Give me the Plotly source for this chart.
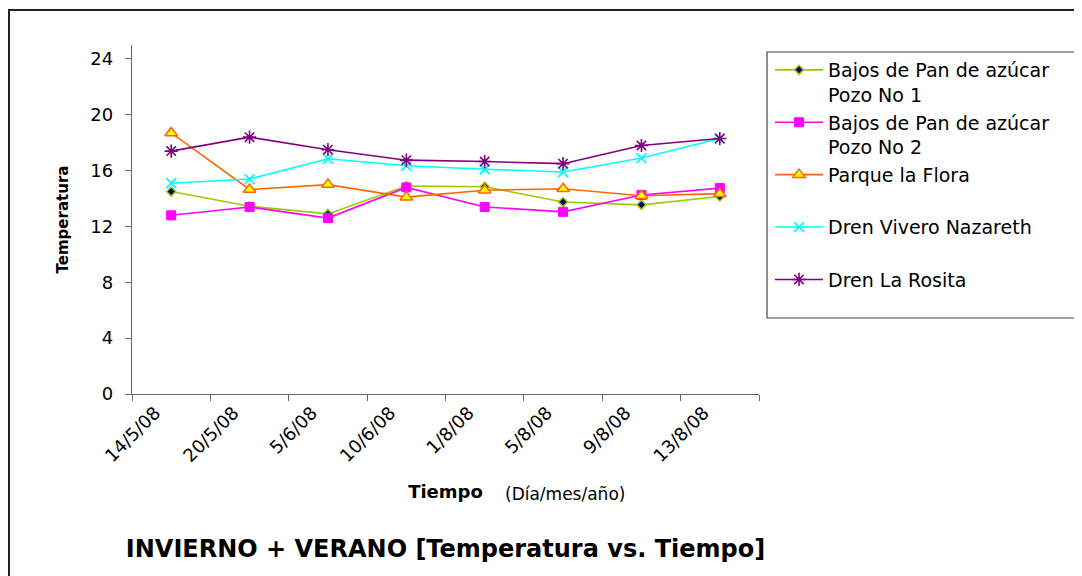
import plotly.graph_objects as go

categories = ["14/5/08", "20/5/08", "5/6/08", "10/6/08", "1/8/08", "5/8/08", "9/8/08", "13/8/08"]
pozo1 = [14.5, 13.45, 12.9, 14.9, 14.85, 13.75, 13.55, 14.15]
pozo2 = [12.8, 13.4, 12.6, 14.8, 13.4, 13.05, 14.25, 14.75]
flora = [18.7, 14.65, 15.0, 14.1, 14.6, 14.7, 14.2, 14.35]
vivero = [15.1, 15.4, 16.85, 16.35, 16.1, 15.9, 16.9, 18.3]
rosita = [17.4, 18.4, 17.5, 16.75, 16.65, 16.5, 17.8, 18.3]
y_ticks = [0, 4, 8, 12, 16, 20, 24]

FONT = "DejaVu Sans"

fig = go.Figure()

series = [
    ("Bajos de Pan de azúcar<br>Pozo No 1", pozo1, "#99CC00",
     dict(symbol="diamond", size=7, color="#000080", line=dict(color="#99CC00", width=1.5))),
    ("Bajos de Pan de azúcar<br>Pozo No 2", pozo2, "#FF00FF",
     dict(symbol="square", size=9, color="#FF00FF", line=dict(color="#FF00FF", width=1))),
    ("Parque la Flora<br> ", flora, "#FF6600",
     dict(symbol="triangle-up", size=11, color="#FFFF00", line=dict(color="#FF6600", width=1.5))),
    ("Dren Vivero Nazareth<br> ", vivero, "#00FFFF",
     dict(symbol="x-thin-open", size=10, color="#00FFFF", line=dict(color="#00FFFF", width=1.8))),
    ("Dren La Rosita<br> ", rosita, "#800080",
     dict(symbol="asterisk-open", size=11, color="#800080", line=dict(color="#800080", width=1.6))),
]

for i, (name, vals, col, mk) in enumerate(series):
    fig.add_trace(go.Scatter(
        x=categories, y=vals, name=name, mode="lines+markers",
        line=dict(color=col, width=1.6), marker=mk, legendgroup=f"g{i}",
    ))

# page body has an 8px margin; work in reference pixel coords and shift
OFF = 8
W, H = 1082 - OFF, 576 - OFF
L, T = 132 - OFF, 45 - OFF
R = W - (759 - OFF)
B = H - (394 - OFF)
pw, ph = W - L - R, H - T - B

def px_x(x):
    return (x - OFF - L) / pw

def px_y(y):
    return (H - B - (y - OFF)) / ph

fig.update_layout(
    width=W, height=H,
    margin=dict(l=L, r=R, t=T, b=B, autoexpand=False),
    paper_bgcolor="white", plot_bgcolor="white",
    font=dict(family=FONT, size=17, color="black"),
    showlegend=True,
    legend=dict(
        x=px_x(770), y=px_y(51), xanchor="left", yanchor="top",
        font=dict(family=FONT, size=19, color="black"),
        valign="top", tracegroupgap=0, itemwidth=48,
        bgcolor="rgba(0,0,0,0)", borderwidth=0,
    ),
    title=dict(
        text="INVIERNO + VERANO [Temperatura vs. Tiempo]",
        x=0.5, xref="paper", xanchor="center",
        y=1 - (549 - OFF) / H, yref="container", yanchor="middle",
        font=dict(family=FONT, size=24, color="black", weight="bold"),
    ),
    xaxis=dict(
        type="category", range=[-0.5, 7.5], tickson="boundaries",
        showline=True, linecolor="#666666", linewidth=1.3,
        ticks="outside", ticklen=6, tickcolor="#666666", tickwidth=1.3,
        showgrid=False, zeroline=False, tickangle=-45,
        ticklabelshift=-16,
        tickfont=dict(family=FONT, size=18, color="black"),
        title=dict(text="Tiempo", standoff=20,
                   font=dict(family=FONT, size=18, color="black", weight="bold")),
    ),
    yaxis=dict(
        range=[0, 25], tickvals=y_ticks,
        showline=True, linecolor="#666666", linewidth=1.3,
        ticks="outside", ticklen=6, tickcolor="#666666", tickwidth=1.3,
        ticklabelstandoff=8,
        showgrid=False, zeroline=False,
        tickfont=dict(family=FONT, size=18, color="black"),
        title=dict(text="Temperatura", standoff=18,
                   font=dict(family=FONT, size=15, color="black", weight="bold")),
    ),
    shapes=[
        dict(type="rect", xref="paper", yref="paper",
             x0=px_x(9), x1=px_x(1079), y0=px_y(600), y1=px_y(10),
             line=dict(color="#222222", width=2), fillcolor="rgba(0,0,0,0)", layer="below"),
        dict(type="rect", xref="paper", yref="paper",
             x0=px_x(767), x1=px_x(1077), y0=px_y(318), y1=px_y(52),
             line=dict(color="#444444", width=1.2), fillcolor="rgba(0,0,0,0)", layer="below"),
    ],
    annotations=[
        dict(text="(Día/mes/año)", xref="paper", yref="paper",
             x=px_x(503), y=px_y(494), xanchor="left", yanchor="middle",
             showarrow=False, font=dict(family=FONT, size=17, color="black")),
    ],
)

fig.write_html("out.html")
